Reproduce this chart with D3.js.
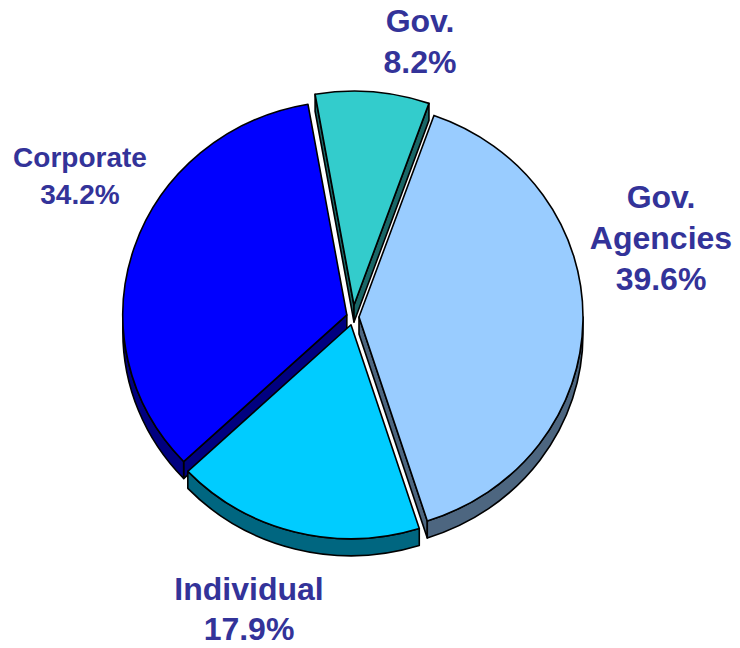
<!DOCTYPE html>
<html>
<head>
<meta charset="utf-8">
<script src="https://cdn.jsdelivr.net/npm/d3@7"></script>
<style>
  body { margin: 0; background: #fff; }
  text { font-family: "Liberation Sans", Arial, sans-serif; font-weight: bold; fill: #333399; }
</style>
</head>
<body>
<div id="chart-area"></div>
<script>
// data
var categories = ["Gov.", "Gov. Agencies", "Individual", "Corporate"];
var nameLines  = [["Gov."], ["Gov.", "Agencies"], ["Individual"], ["Corporate"]];
var shares     = [8.2, 39.6, 17.9, 34.2];
var colors     = ["#33CCCC", "#99CCFF", "#00CCFF", "#0000FF"];

// layout
var width = 740, height = 648;
var cx = 353, cy = 317, rx = 224, ry = 214, depth = 17;
var explode  = [12, 6, 8, 6.5];
var labelPos = [[420, 32], [661, 208], [249, 600], [80, 167]];
var fontSize = [32, 32, 32, 28];
var lineGap  = [41, 41, 40, 37];

var svg = d3.select("#chart-area").append("svg")
    .attr("width", width)
    .attr("height", height);

var start = -10 * Math.PI / 180;
var pie = d3.pie().sort(null).value(function(d) { return d; })
    .startAngle(start).endAngle(start + 2 * Math.PI);
var arcs = pie(shares);

function pt(o, a, dy) {
    return [o[0] + rx * Math.sin(a), o[1] - ry * Math.cos(a) + (dy || 0)];
}
function shade(c) {
    var r = d3.rgb(c);
    return d3.rgb(r.r * 0.5, r.g * 0.5, r.b * 0.5).toString();
}

arcs.forEach(function(a, i) {
    var mid = (a.startAngle + a.endAngle) / 2;
    a.mid = mid;
    a.o = [cx + explode[i] * Math.sin(mid), cy - explode[i] * Math.cos(mid)];
    a.color = colors[i];
});

var walls = svg.append("g");
var tops = svg.append("g");

// back slices first
var order = arcs.slice().sort(function(a, b) { return Math.cos(b.mid) - Math.cos(a.mid); });

order.forEach(function(a) {
    var o = a.o, a0 = a.startAngle, a1 = a.endAngle;
    var wc = shade(a.color);

    // radial walls
    var edges = [];
    if (Math.sin(a0) < 0) edges.push(a0);
    if (Math.sin(a1) > 0) edges.push(a1);
    edges.forEach(function(e) {
        var p = pt(o, e);
        walls.append("path")
            .attr("d", "M" + o + "L" + p + "L" + [p[0], p[1] + depth] + "L" + [o[0], o[1] + depth] + "Z")
            .attr("fill", wc)
            .attr("stroke", "#000")
            .attr("stroke-width", 1.6)
            .attr("stroke-linejoin", "round");
    });

    // outer curved wall (front half only)
    var lo = Math.max(a0, Math.PI / 2), hi = Math.min(a1, 3 * Math.PI / 2);
    if (lo < hi) {
        var t0 = pt(o, lo), t1 = pt(o, hi), b1 = pt(o, hi, depth), b0 = pt(o, lo, depth);
        walls.append("path")
            .attr("d", "M" + t0 + "A" + rx + "," + ry + " 0 0 1 " + t1 +
                "L" + b1 + "A" + rx + "," + ry + " 0 0 0 " + b0 + "Z")
            .attr("fill", wc)
            .attr("stroke", "#000")
            .attr("stroke-width", 1.6)
            .attr("stroke-linejoin", "round");
    }
});

order.forEach(function(a) {
    var o = a.o, p0 = pt(o, a.startAngle), p1 = pt(o, a.endAngle);
    var large = (a.endAngle - a.startAngle) > Math.PI ? 1 : 0;
    tops.append("path")
        .attr("d", "M" + o + "L" + p0 + "A" + rx + "," + ry + " 0 " + large + " 1 " + p1 + "Z")
        .attr("fill", a.color)
        .attr("stroke", "#000")
        .attr("stroke-width", 1.6)
        .attr("stroke-linejoin", "round");
});

// labels
var fmt = d3.format(".1f");
categories.forEach(function(c, i) {
    var lines = nameLines[i].concat([fmt(shares[i]) + "%"]);
    var t = svg.append("text")
        .attr("text-anchor", "middle")
        .attr("font-size", fontSize[i] + "px");
    lines.forEach(function(l, k) {
        t.append("tspan")
            .attr("x", labelPos[i][0])
            .attr("y", labelPos[i][1] + k * lineGap[i])
            .text(l);
    });
});
</script>
</body>
</html>
